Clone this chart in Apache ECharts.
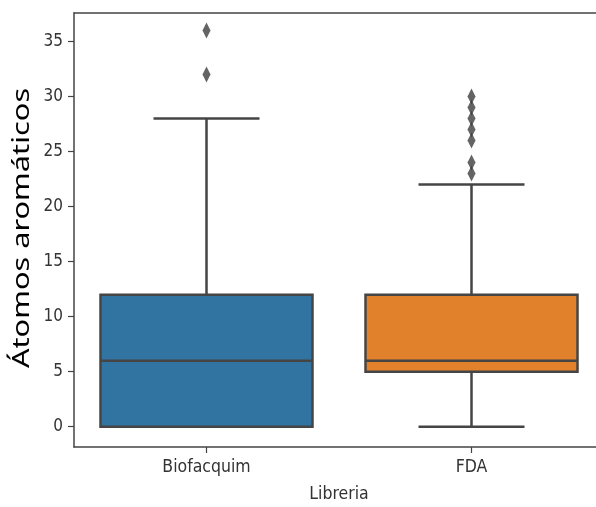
<!DOCTYPE html>
<html><head><meta charset="utf-8">
<script src="https://cdn.jsdelivr.net/npm/echarts@6/dist/echarts.min.js"></script>
<style>html,body{margin:0;padding:0;background:#fff}#c{width:596px;height:507px}</style>
</head><body><div id="c"></div>
<script>
const categories = ['Biofacquim', 'FDA'];
// [min whisker, Q1, median, Q3, max whisker]
const boxStats = [
  [0, 0, 6, 12, 28],
  [0, 5, 6, 12, 22]
];
const outliersBiofacquim = [32, 36];
const outliersFDA = [23, 24, 26, 27, 28, 29, 30];
const yTicks = [0, 5, 10, 15, 20, 25, 30, 35];
const boxColors = ['#3274a1', '#e1812c'];
const lineColor = '#454545';

const chart = echarts.init(document.getElementById('c'));
const boxData = boxStats.map((s, i) => [i].concat(s));
const outlierData = [];
outliersBiofacquim.forEach(v => outlierData.push([categories[0], v]));
outliersFDA.forEach(v => outlierData.push([categories[1], v]));

const frame = { show: true, onZero: false, lineStyle: { color: '#444', width: 1.5 } };
chart.setOption({
  animation: false,
  grid: { left: 74, top: 13, width: 530, height: 434, outerBoundsMode: 'none', containLabel: false },
  xAxis: [{
    type: 'category', data: categories, boundaryGap: true,
    axisLine: frame,
    axisTick: { show: true, alignWithLabel: true, length: 6, lineStyle: { color: '#444', width: 1.2 } },
    axisLabel: { color: '#333', fontFamily: 'DejaVu Sans Condensed, DejaVu Sans', fontSize: 17.5, margin: 11 },
    name: 'Libreria', nameLocation: 'middle', nameGap: 38,
    nameTextStyle: { color: '#333', fontFamily: 'DejaVu Sans Condensed, DejaVu Sans', fontSize: 17.5 }
  }, {
    type: 'category', data: categories, position: 'top',
    axisLine: frame, axisTick: { show: false }, axisLabel: { show: false }
  }],
  yAxis: {
    type: 'value', min: -1.85, max: 37.6,
    splitLine: { show: false },
    axisLine: frame,
    axisTick: { show: true, length: 6, customValues: yTicks, lineStyle: { color: '#444', width: 1.2 } },
    axisLabel: { color: '#333', fontFamily: 'DejaVu Sans Condensed, DejaVu Sans', fontSize: 17, margin: 11, customValues: yTicks }
  },
  graphic: [{
    type: 'text', x: 22, y: 228, rotation: Math.PI / 2, scaleX: 1.28,
    style: { text: 'Átomos aromáticos', fill: '#000', font: '24px "Noto Sans"', align: 'center', verticalAlign: 'middle' }
  }],
  series: [{
    type: 'custom',
    data: boxData,
    encode: { x: 0, y: [1, 2, 3, 4, 5] },
    renderItem: function (params, api) {
      const idx = api.value(0);
      const cx = api.coord([idx, 0])[0];
      const band = api.size([1, 0])[0];
      const bw = band * 0.8, cw = bw / 2;
      const yMin = api.coord([idx, api.value(1)])[1];
      const yQ1 = api.coord([idx, api.value(2)])[1];
      const yMed = api.coord([idx, api.value(3)])[1];
      const yQ3 = api.coord([idx, api.value(4)])[1];
      const yMax = api.coord([idx, api.value(5)])[1];
      const ls = { stroke: lineColor, lineWidth: 2.5 };
      return {
        type: 'group',
        children: [
          { type: 'line', shape: { x1: cx, y1: yQ3, x2: cx, y2: yMax }, style: ls },
          { type: 'line', shape: { x1: cx, y1: yQ1, x2: cx, y2: yMin }, style: ls },
          { type: 'line', shape: { x1: cx - cw / 2, y1: yMax, x2: cx + cw / 2, y2: yMax }, style: ls },
          { type: 'line', shape: { x1: cx - cw / 2, y1: yMin, x2: cx + cw / 2, y2: yMin }, style: ls },
          { type: 'rect', shape: { x: cx - bw / 2, y: yQ3, width: bw, height: yQ1 - yQ3 },
            style: { fill: boxColors[idx], stroke: lineColor, lineWidth: 2.5 } },
          { type: 'line', shape: { x1: cx - bw / 2, y1: yMed, x2: cx + bw / 2, y2: yMed }, style: ls }
        ]
      };
    }
  }, {
    type: 'scatter',
    data: outlierData,
    symbol: 'diamond', symbolSize: [8, 16],
    itemStyle: { color: '#3d3d3d' }
  }]
});
</script></body></html>
